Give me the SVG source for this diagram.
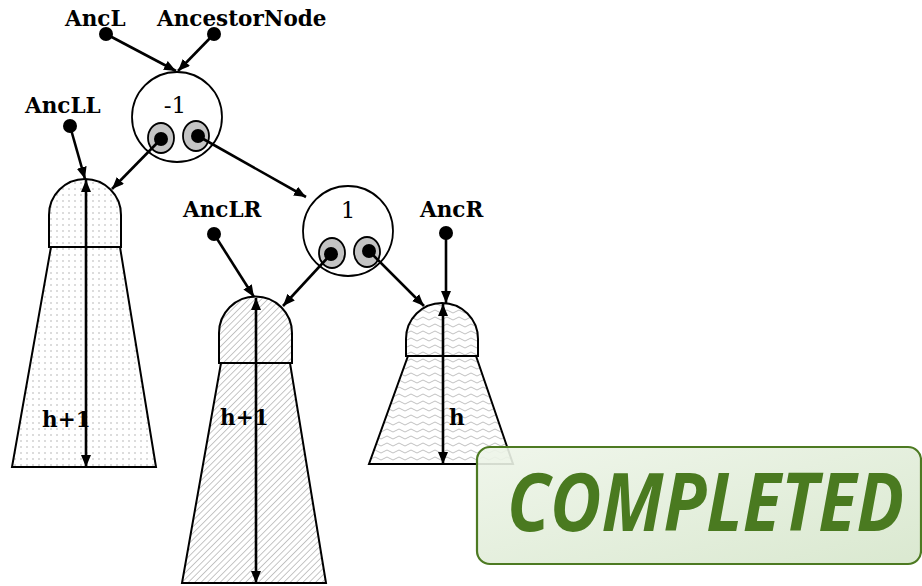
<svg xmlns="http://www.w3.org/2000/svg" width="922" height="586" viewBox="0 0 922 586">
<defs>
<style>
.lbl{font-family:"DejaVu Serif","Liberation Serif",serif;font-weight:bold;font-size:21.5px;fill:#000}
.num{font-family:"DejaVu Serif","Liberation Serif",serif;font-size:23px;fill:#000;text-anchor:middle}
.node{fill:#fff;stroke:#000;stroke-width:1.8}
.ptr{fill:#c4c4c4;stroke:#000;stroke-width:1.8}
.dot{fill:#000}
.edge{stroke:#000;stroke-width:2.6;fill:none;marker-end:url(#ah)}
.dbl{stroke:#000;stroke-width:2.6;fill:none;marker-end:url(#ah);marker-start:url(#ah)}
.tree{stroke:#000;stroke-width:2}
</style>
<marker id="ah" viewBox="0 0 12 10" refX="12" refY="5" markerWidth="12" markerHeight="10" markerUnits="userSpaceOnUse" orient="auto-start-reverse">
<path d="M0,0 L12,5 L0,10 Z" fill="#000"/>
</marker>
<pattern id="pDots" width="6" height="6" patternUnits="userSpaceOnUse">
<rect width="6" height="6" fill="#fff"/>
<circle cx="3" cy="3" r="0.8" fill="#b0b0b0"/>
</pattern>
<pattern id="pHatch" width="4.5" height="4.5" patternUnits="userSpaceOnUse" patternTransform="rotate(45)">
<rect width="4.5" height="4.5" fill="#fff"/>
<line x1="0" y1="0" x2="0" y2="4.5" stroke="#a8a8a8" stroke-width="1.3"/>
</pattern>
<pattern id="pWave" width="12" height="7" patternUnits="userSpaceOnUse">
<rect width="12" height="7" fill="#fff"/>
<path d="M0,3.5 Q3,0.5 6,3.5 T12,3.5" fill="none" stroke="#b8b8b8" stroke-width="0.9"/>
</pattern>
<linearGradient id="gBadge" x1="0" y1="0" x2="1" y2="1">
<stop offset="0" stop-color="#eef5e9"/>
<stop offset="1" stop-color="#d6e6cb"/>
</linearGradient>
</defs>

<g id="tree-LL">
<path class="tree" fill="url(#pDots)" d="M51,247 L120,247 L156,467 L12,467 Z"/>
<path class="tree" fill="url(#pDots)" d="M49,247 L49,215 A36,36 0 0 1 121,215 L121,247 Z"/>
<text class="lbl" x="42" y="427">h+1</text>
</g>
<g id="tree-LR">
<path class="tree" fill="url(#pHatch)" d="M221,363 L290,363 L326,583 L182,583 Z"/>
<path class="tree" fill="url(#pHatch)" d="M219,363 L219,333 A36.5,36.5 0 0 1 292,333 L292,363 Z"/>
<text class="lbl" x="220" y="425">h+1</text>
</g>
<g id="tree-R">
<path class="tree" fill="url(#pWave)" d="M408,356 L476,356 L513,464 L369,464 Z"/>
<path class="tree" fill="url(#pWave)" d="M406,356 L406,339 A36,36 0 0 1 478,339 L478,356 Z"/>
<text class="lbl" x="449" y="425">h</text>
</g>

<g id="node-minus1">
<circle class="node" cx="177" cy="117" r="45"/>
<text class="num" x="175" y="113">-1</text>
<ellipse class="ptr" cx="161" cy="138" rx="13" ry="15"/>
<ellipse class="ptr" cx="196" cy="136" rx="13" ry="15"/>
<circle class="dot" cx="161" cy="139" r="7"/>
<circle class="dot" cx="198" cy="136" r="7"/>
</g>
<g id="node-1">
<circle class="node" cx="348" cy="231" r="45"/>
<text class="num" x="348" y="218">1</text>
<ellipse class="ptr" cx="332" cy="253" rx="13" ry="15"/>
<ellipse class="ptr" cx="367" cy="252" rx="13" ry="15"/>
<circle class="dot" cx="331" cy="254" r="7"/>
<circle class="dot" cx="369" cy="251" r="7"/>
</g>

<g id="ptr-AncL"><text class="lbl" x="65" y="26">AncL</text><circle class="dot" cx="106" cy="34" r="7"/></g>
<g id="ptr-AncestorNode"><text class="lbl" x="157" y="26">AncestorNode</text><circle class="dot" cx="214" cy="34" r="7"/></g>
<g id="ptr-AncLL"><text class="lbl" x="25" y="113">AncLL</text><circle class="dot" cx="70" cy="126" r="7"/></g>
<g id="ptr-AncLR"><text class="lbl" x="183" y="217">AncLR</text><circle class="dot" cx="214" cy="234" r="7"/></g>
<g id="ptr-AncR"><text class="lbl" x="420" y="217">AncR</text><circle class="dot" cx="446" cy="233" r="7"/></g>

<g id="connectors">
<line class="edge" x1="106" y1="34" x2="176" y2="71"/>
<line class="edge" x1="214" y1="34" x2="178" y2="71"/>
<line class="edge" x1="70" y1="126" x2="85" y2="179"/>
<line class="edge" x1="161" y1="139" x2="112" y2="189"/>
<line class="edge" x1="198" y1="136" x2="306" y2="197"/>
<line class="edge" x1="214" y1="234" x2="254" y2="297"/>
<line class="edge" x1="331" y1="254" x2="283" y2="306"/>
<line class="edge" x1="369" y1="251" x2="424" y2="306"/>
<line class="edge" x1="446" y1="233" x2="446" y2="303"/>
<line class="dbl" x1="86" y1="180" x2="86" y2="467"/>
<line class="dbl" x1="256" y1="298" x2="256" y2="583"/>
<line class="dbl" x1="443" y1="304" x2="443" y2="464"/>
</g>

<g id="badge">
<rect x="477" y="447" width="444" height="117" rx="13" ry="13" fill="url(#gBadge)" fill-opacity="0.9" stroke="#4d7a22" stroke-width="2.2"/>
<text transform="translate(507,531) scale(0.88,1)" x="0" y="0" font-family="'Open Sans','DejaVu Sans',sans-serif" font-weight="bold" font-style="italic" font-size="80" fill="#4a7a20">COMPLETED</text>
</g>
</svg>
